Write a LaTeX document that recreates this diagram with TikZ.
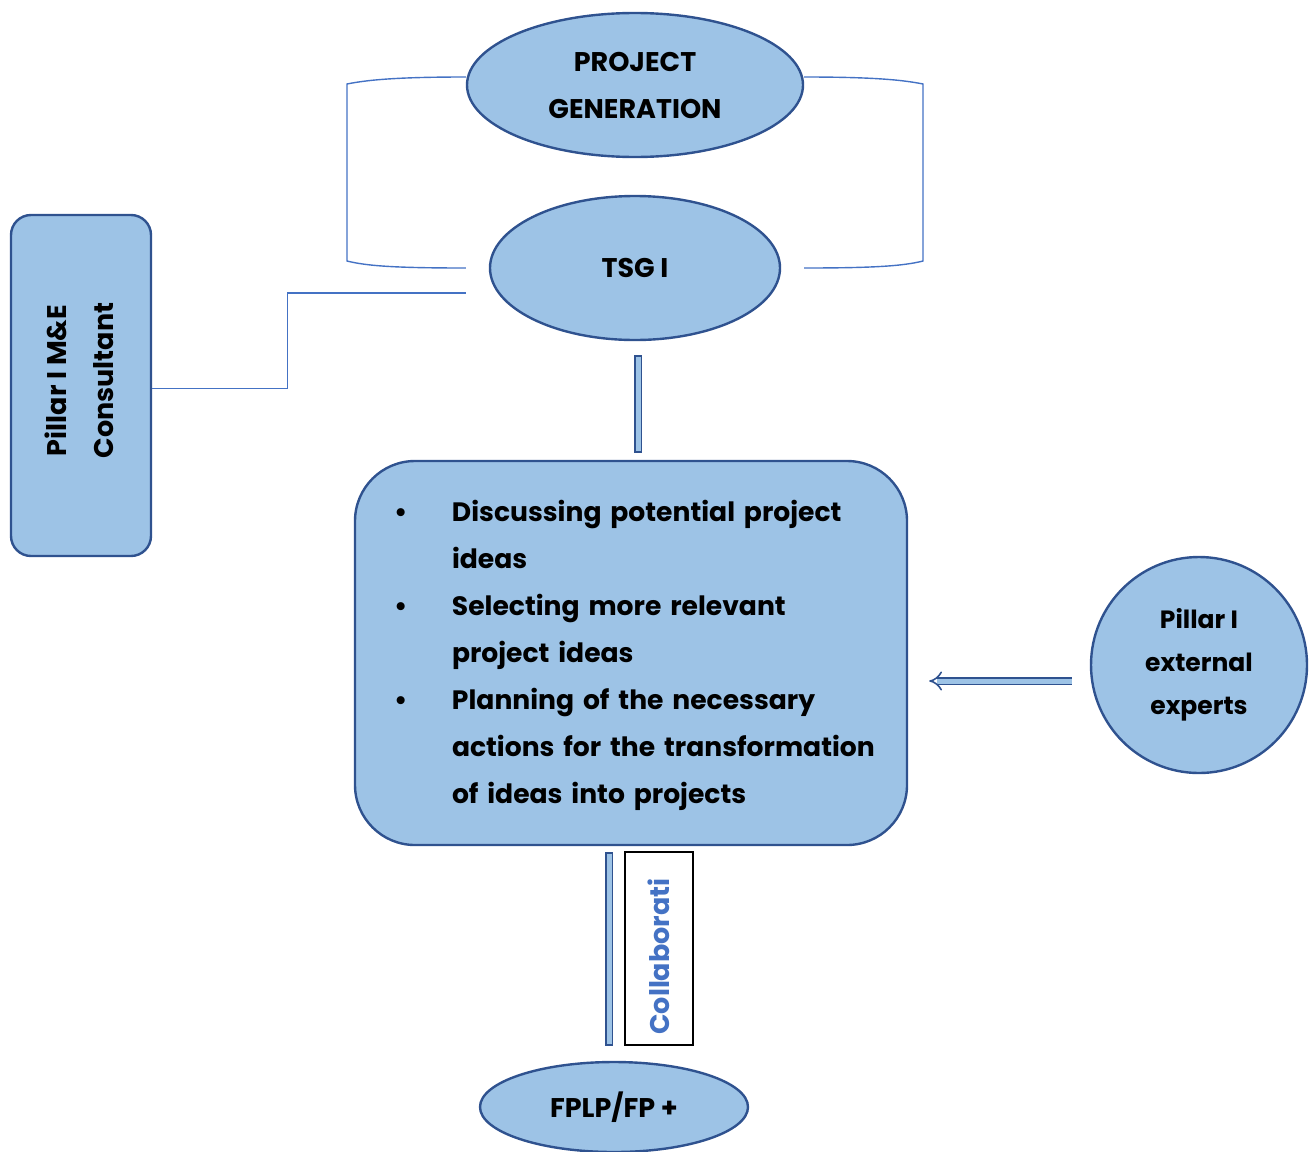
\documentclass[tikz,border=0pt]{standalone}
\usepackage{fontspec}
\setmainfont{Poppins}
\usetikzlibrary{calc,shapes.geometric,arrows.meta}

\definecolor{boxfill}{HTML}{9DC3E6}
\definecolor{boxline}{HTML}{2F528F}
\definecolor{linkblue}{HTML}{4472C4}

\newcommand{\taskitem}{\par\noindent\hangindent=33.5pt\makebox[33.5pt][l]{\hspace{4.5pt}\textbullet}}

\begin{document}
\begin{tikzpicture}[x=0.5pt,y=-0.5pt]
\tikzset{
	blob/.style={ %
		draw=boxline,
		fill=boxfill,
		line width=1.2pt,
		inner sep=0pt,
		align=center,
		font=\bfseries\fontsize{13.5}{23.5}\selectfont %
	},
	link/.style={draw=linkblue, line width=0.7pt},
	bar/.style={draw=boxline, double=boxfill, double distance=2.5pt, line width=0.8pt, line cap=rect}
}
\useasboundingbox (0,0) rectangle (1315,1151);

\node[blob, ellipse, minimum width=168pt, minimum height=72pt] (gen) at (635,85) {PROJECT\\GENERATION};
\node[blob, ellipse, minimum width=145pt, minimum height=72pt] (tsg) at (635,268) {TSG I};
\node[blob, rectangle, rounded corners=10pt, rotate=90, minimum width=170.5pt, minimum height=70pt, align=none] (cons) at (81,385.5) {%
	\hspace{5pt}\raisebox{3.5pt}{\begin{tabular}{@{}c@{}}Pillar I M\&E\\Consultant\end{tabular}}};
\node[blob, rectangle, rounded corners=30pt, minimum width=276pt, minimum height=192pt, text width=246pt, align=left, font=\bfseries\fontsize{13.3}{23.5}\selectfont] (tasks) at (631,653) {%
	\taskitem Discussing potential project\newline ideas
	\taskitem Selecting more relevant\newline project ideas
	\taskitem Planning of the necessary\newline actions for the transformation\newline of ideas into projects\par\kern10pt};
\node[blob, circle, minimum size=108pt, font=\bfseries\fontsize{12.5}{21.5}\selectfont] (experts) at (1199,665) {Pillar I\\external\\experts};
\node[blob, ellipse, minimum width=134pt, minimum height=45pt] (fplp) at (614,1107) {FPLP/FP +};
\node[draw=black, line width=0.8pt, rotate=90, minimum width=96.5pt, minimum height=34pt, inner sep=0pt, text=linkblue, font=\bfseries\fontsize{13.5}{14}\selectfont] (collab) at (659,948.5) {Collaborati\kern8pt};

% brackets round the two ellipses
\draw[link] ($(gen.west)+(0,-8)$) .. controls +(-70,0) and +(20,-4) .. (347,84) -- (347,261) .. controls +(20,5) and +(-70,0) .. ($(tsg.west)+(-23,0)$);
\draw[link] ($(gen.east)+(0,-8)$) .. controls +(70,0) and +(-20,-4) .. (923,84) -- (923,261) .. controls +(-20,5) and +(70,0) .. ($(tsg.east)+(23,0)$);

\draw[link] ($(cons.south)+(0,3)$) -- ++(135,0) |- ($(tsg.west)+(-23,25)$);

\draw[bar] ($(tsg.south)+(3,18)$) -- ($(tasks.north)+(7,-11)$);
\draw[bar] ($(tasks.south)+(-22,10)$) -- ($(fplp.north)+(-5,-19)$);
\draw[bar, line cap=butt, -{Implies[scale=1.3]}] ($(experts.west)+(-18,16)$) -- ($(tasks.east)+(21,28)$);

\end{tikzpicture}
\end{document}
